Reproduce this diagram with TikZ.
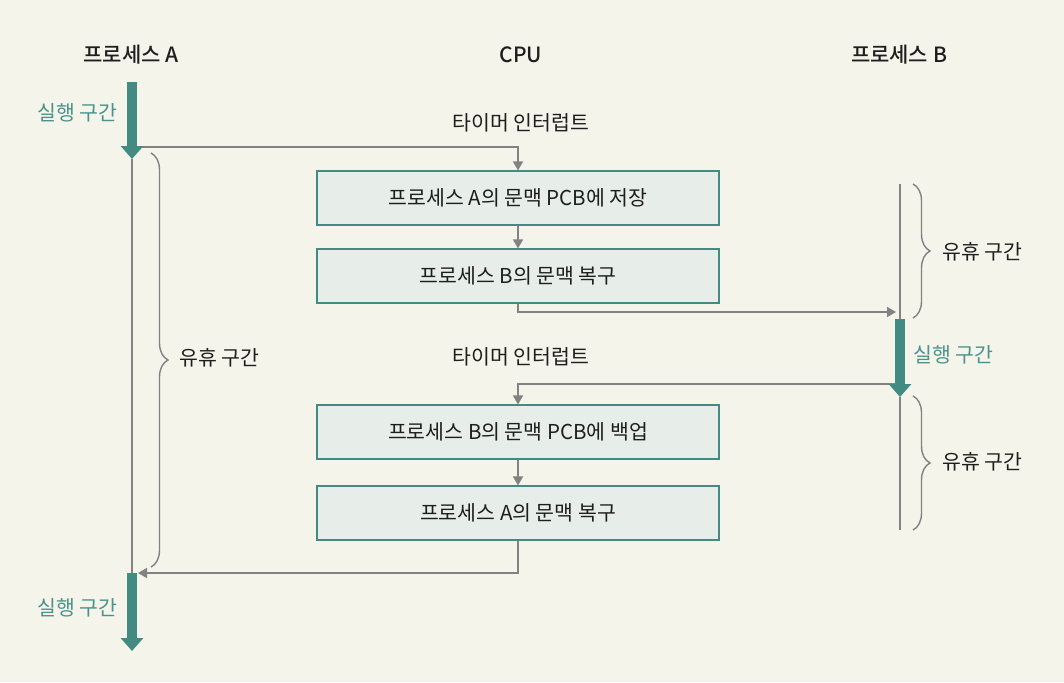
\documentclass[tikz,border=0pt]{standalone}
\usepackage{fontspec}
\setmainfont{Noto Sans CJK KR}
\newfontfamily\titlefont{Noto Sans CJK KR Medium}
\usetikzlibrary{arrows.meta,decorations.pathreplacing}
\definecolor{bgc}{RGB}{244,244,234}
\definecolor{teal1}{RGB}{66,138,130}
\definecolor{tealtxt}{RGB}{74,146,139}
\definecolor{boxfill}{RGB}{231,237,233}
\definecolor{linec}{RGB}{130,130,130}
\definecolor{txt}{RGB}{30,30,30}
\tikzset{
  title/.style={font=\titlefont\fontsize{21}{24}\selectfont, text=txt},
  lbl/.style={font=\fontsize{20.5}{24}\selectfont, text=txt},
  runlbl/.style={font=\fontsize{20.5}{24}\selectfont, text=tealtxt},
  stepbox/.style={draw=teal1, line width=1.1pt, fill=boxfill, minimum width=402pt, minimum height=54pt, inner sep=0pt, font=\fontsize{20.5}{24}\selectfont, text=txt},
  conn/.style={draw=linec, line width=1.6pt, -{Triangle[length=9pt,width=10pt]}},
  timeline/.style={draw=linec, line width=1.4pt},
  runarrow/.style={draw=teal1, line width=9.5pt, -{Triangle[length=13pt,width=22pt]}, shorten >=0pt},
  bracestyle/.style={draw=linec, line width=1.4pt, decorate, decoration={brace, amplitude=17pt, aspect=0.5}},
}
\begin{document}
\begin{tikzpicture}[x=1pt,y=-1pt]
\fill[bgc] (0,0) rectangle (1064,682);
\useasboundingbox (0,0) rectangle (1064,682);

% titles
\node[title] (tA) at (131,55) {프로세스 A};
\node[title] (tC) at (521,55) {CPU};
\node[title] (tB) at (899,55) {프로세스 B};

% coordinates on process lines
\coordinate (A0) at (132,82);
\coordinate (A1) at (132,159);
\coordinate (A2) at (132,573);
\coordinate (A3) at (132,651);
\coordinate (Aa) at (132,147);
\coordinate (Ab) at (138,573);
\coordinate (B0) at (900,184);
\coordinate (B1) at (900,319);
\coordinate (B2) at (900,397);
\coordinate (B3) at (900,530);
\coordinate (Ba) at (896,312);
\coordinate (Bb) at (900,384);

% boxes
\node[stepbox] (s1) at (518,198) {프로세스 A의 문맥 PCB에 저장};
\node[stepbox] (s2) at (518,276) {프로세스 B의 문맥 복구};
\node[stepbox] (s3) at (518,432) {프로세스 B의 문맥 PCB에 백업};
\node[stepbox] (s4) at (518,513) {프로세스 A의 문맥 복구};

% interrupt labels
\node[lbl] (i1) at (521,123) {타이머 인터럽트};
\node[lbl] (i2) at (521,357) {타이머 인터럽트};

% timelines
\draw[timeline] (A1) -- (A2);
\draw[timeline] (B0) -- (B1);
\draw[timeline] (B2) -- (B3);

% connectors
\draw[conn] (Aa) -| (s1.north);
\draw[conn] (s1.south) -- (s2.north);
\draw[conn] (s2.south) |- (Ba);
\draw[conn] (Bb) -| (s3.north);
\draw[conn] (s3.south) -- (s4.north);
\draw[conn] (s4.south) |- (Ab);

% run arrows
\draw[runarrow] (A0) -- (A1);
\draw[runarrow] (A2) -- (A3);
\draw[runarrow] (B1) -- (B2);

% run labels
\node[runlbl, anchor=east] (rA1) at (121,113) {실행 구간};
\node[runlbl, anchor=east] (rA2) at (121,608) {실행 구간};
\node[runlbl, anchor=west] (rB) at (910,355) {실행 구간};

% braces
\draw[bracestyle] (151,153) -- (151,567);
\draw[bracestyle] (913,184) -- (913,318);
\draw[bracestyle] (913,396) -- (913,530);

% idle labels
\node[lbl, anchor=west] (iA) at (176,358) {유휴 구간};
\node[lbl, anchor=west] (iB1) at (939,252) {유휴 구간};
\node[lbl, anchor=west] (iB2) at (939,462) {유휴 구간};
\end{tikzpicture}
\end{document}
